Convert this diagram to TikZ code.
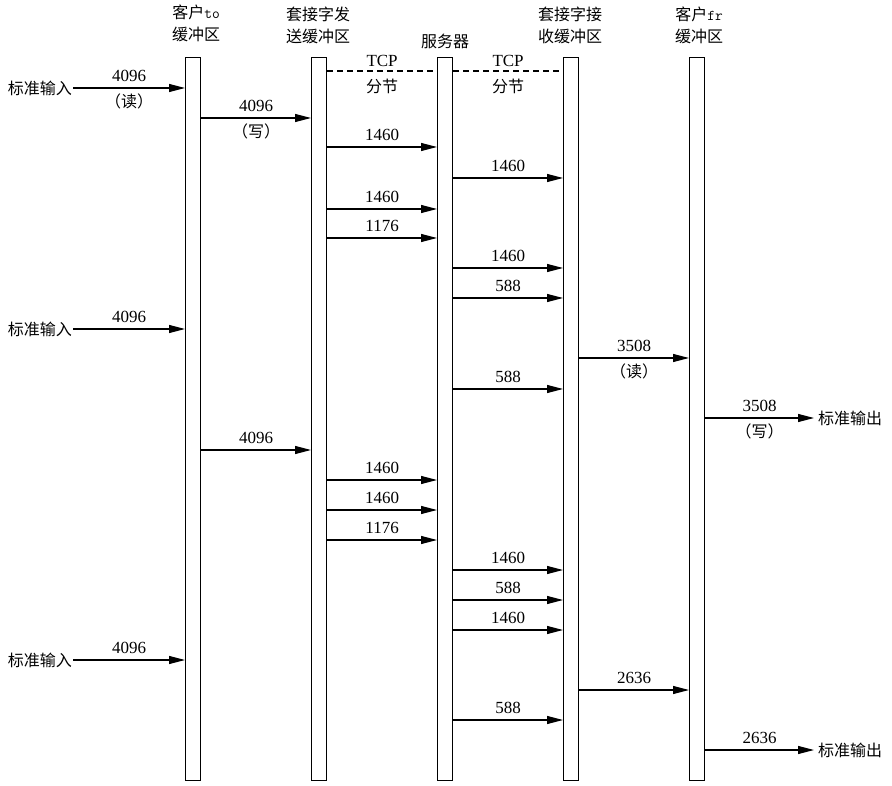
\documentclass[tikz,border=0pt]{standalone}
\usepackage{fontspec}
\setmainfont{Liberation Serif}
\newfontfamily\cjk{Noto Sans CJK SC}
\usetikzlibrary{arrows.meta}
\newcommand{\sendmsg}[4]{\draw[msg] (#1.east |- 0,#3) -- (#2.west |- 0,#3) node[num,midway,above=3pt]{#4};}
\newcommand{\sendmsgsub}[5]{\draw[msg] (#1.east |- 0,#3) -- (#2.west |- 0,#3) node[num,midway,above=3pt]{#4} node[zh,midway,below=3pt]{#5};}
\begin{document}
\begin{tikzpicture}[x=1pt,y=-1pt,
  bar/.style={draw, line width=1.2pt, minimum width=15pt, minimum height=723pt, inner sep=0pt, anchor=north west},
  msg/.style={-{Triangle[length=16pt,width=8pt]}, line width=1.1pt},
  segline/.style={line width=1.1pt, dash pattern=on 6pt off 4pt},
  num/.style={font=\fontsize{17}{17}\selectfont, inner sep=3pt},
  zh/.style={font=\fontsize{16}{16}\cjk, inner sep=2pt},
  head/.style={font=\fontsize{16}{22}\cjk, align=center, inner sep=0pt},
]
\useasboundingbox (0,0) rectangle (892,786);
% bars
\node[bar] (b1) at (185,57) {};
\node[bar] (b2) at (311,57) {};
\node[bar] (b3) at (437,57) {};
\node[bar] (b4) at (563,57) {};
\node[bar] (b5) at (689,57) {};
% headers
\node[head] (h1) at (196,23) {客户{\fontsize{15}{15}\ttfamily to}\\缓冲区};
\node[head] (h2) at (318,25) {套接字发\\送缓冲区};
\node[head] (h3) at (445,41) {服务器};
\node[head] (h4) at (570,25) {套接字接\\收缓冲区};
\node[head] (h5) at (699,25) {客户{\fontsize{15}{15}\ttfamily fr}\\缓冲区};
% TCP segment dashed lines
\draw[segline] (b2.east |- 0,71) -- (b3.west |- 0,71) node[num,midway,above=1pt]{TCP} node[zh,midway,below=6pt]{分节};
\draw[segline] (b3.east |- 0,71) -- (b4.west |- 0,71) node[num,midway,above=1pt]{TCP} node[zh,midway,below=6pt]{分节};
% inputs
\node[zh, anchor=east, inner sep=1pt] (in1) at (73,88) {标准输入};
\draw[msg] (in1.east) -- (b1.west |- in1.east) node[num,midway,above=3pt]{4096} node[zh,midway,below=3pt]{（读）};
\node[zh, anchor=east, inner sep=1pt] (in2) at (73,329) {标准输入};
\draw[msg] (in2.east) -- (b1.west |- in2.east) node[num,midway,above=3pt]{4096};
\node[zh, anchor=east, inner sep=1pt] (in3) at (73,660) {标准输入};
\draw[msg] (in3.east) -- (b1.west |- in3.east) node[num,midway,above=3pt]{4096};
% messages
\sendmsgsub{b1}{b2}{118}{4096}{（写）}
\sendmsg{b2}{b3}{147}{1460}
\sendmsg{b3}{b4}{178}{1460}
\sendmsg{b2}{b3}{209}{1460}
\sendmsg{b2}{b3}{238}{1176}
\sendmsg{b3}{b4}{268}{1460}
\sendmsg{b3}{b4}{298}{588}
\sendmsgsub{b4}{b5}{358}{3508}{（读）}
\sendmsg{b3}{b4}{389}{588}
\sendmsg{b1}{b2}{450}{4096}
\sendmsg{b2}{b3}{480}{1460}
\sendmsg{b2}{b3}{510}{1460}
\sendmsg{b2}{b3}{540}{1176}
\sendmsg{b3}{b4}{570}{1460}
\sendmsg{b3}{b4}{600}{588}
\sendmsg{b3}{b4}{630}{1460}
\sendmsg{b4}{b5}{690}{2636}
\sendmsg{b3}{b4}{720}{588}
% outputs
\node[zh, anchor=west, inner sep=4pt] (out1) at (814,418) {标准输出};
\draw[msg] (b5.east |- out1.west) -- (out1.west) node[num,midway,above=3pt]{3508} node[zh,midway,below=3pt]{（写）};
\node[zh, anchor=west, inner sep=4pt] (out2) at (814,750) {标准输出};
\draw[msg] (b5.east |- out2.west) -- (out2.west) node[num,midway,above=3pt]{2636};
\end{tikzpicture}
\end{document}
